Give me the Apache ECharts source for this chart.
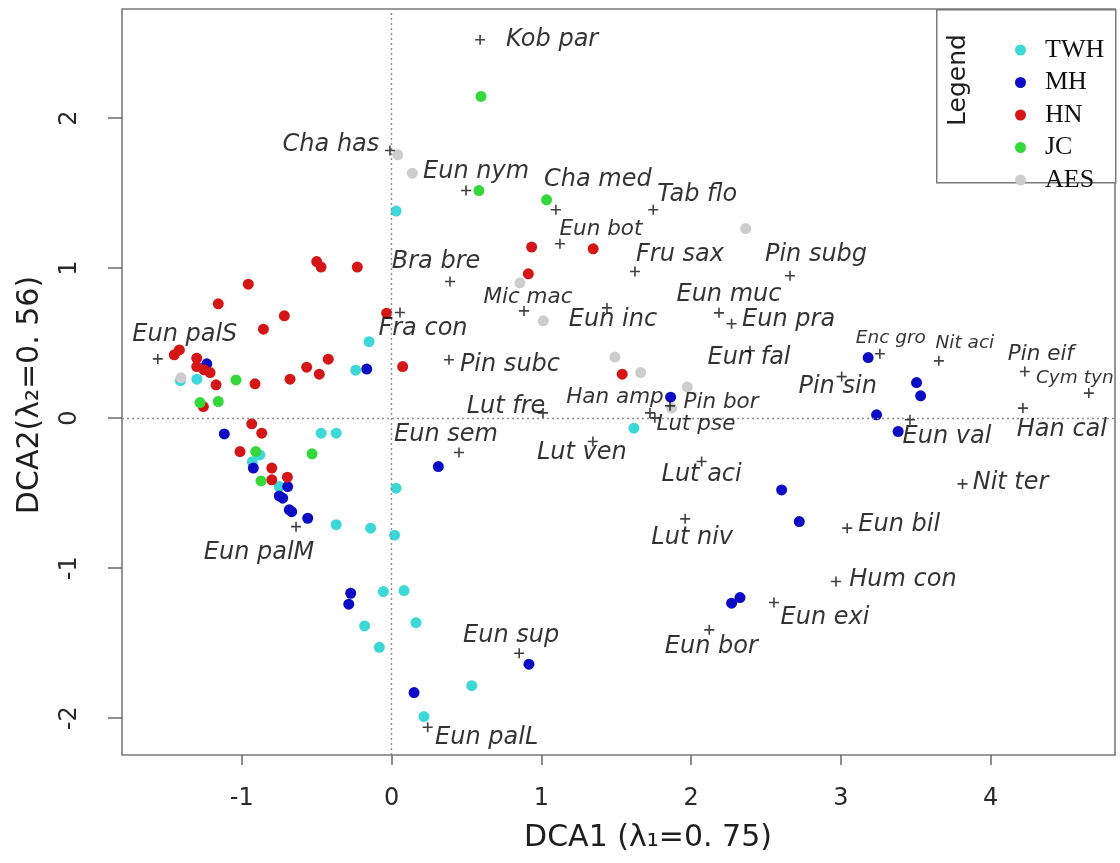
<!DOCTYPE html>
<html>
<head>
<meta charset="utf-8">
<script src="https://cdn.jsdelivr.net/npm/echarts@6/dist/echarts.min.js"></script>
<style>
  html, body { margin: 0; padding: 0; background: #ffffff; }
  #chart { width: 1120px; height: 863px; }
</style>
</head>
<body>
<div id="chart"></div>
<script>
// ---- DCA sample scores by group: [DCA1, DCA2] ----
const groupNames = ['TWH', 'MH', 'HN', 'JC', 'AES'];

const twhPoints = [
  [0.03, 1.38], [-0.15, 0.51], [-0.24, 0.32], [-1.41, 0.25], [-1.30, 0.26],
  [-0.47, -0.10], [-0.37, -0.10], [-0.88, -0.245], [-0.93, -0.29], [-0.75, -0.456],
  [0.03, -0.467], [-0.37, -0.71], [-0.14, -0.733], [0.02, -0.78], [-0.055, -1.156],
  [0.083, -1.149], [-0.18, -1.385], [0.163, -1.363], [-0.082, -1.527], [0.535, -1.783],
  [0.216, -1.989], [1.618, -0.067]
];

const mhPoints = [
  [-1.234, 0.362], [-0.166, 0.327], [-1.117, -0.105], [-0.923, -0.333], [-0.694, -0.456],
  [-0.75, -0.518], [-0.727, -0.533], [-0.683, -0.611], [-0.667, -0.623], [-0.56, -0.667],
  [0.312, -0.323], [-0.273, -1.167], [-0.286, -1.24], [0.15, -1.829], [0.917, -1.64],
  [2.27, -1.233], [2.326, -1.196], [1.863, 0.14], [3.182, 0.404], [3.505, 0.237],
  [3.532, 0.149], [3.238, 0.022], [3.382, -0.089], [2.604, -0.478], [2.722, -0.689]
];

const hnPoints = [
  [-0.5, 1.044], [-0.471, 1.007], [-0.229, 1.007], [-0.957, 0.893], [0.935, 1.14],
  [1.346, 1.129], [0.913, 0.962], [-1.157, 0.762], [-0.716, 0.682], [-0.856, 0.593],
  [-1.451, 0.422], [-1.417, 0.455], [-1.301, 0.40], [-1.301, 0.344], [-1.252, 0.322],
  [-1.212, 0.304], [-1.172, 0.222], [-0.912, 0.229], [-0.567, 0.34], [-0.678, 0.26],
  [-0.483, 0.293], [-0.423, 0.393], [-0.033, 0.70], [0.074, 0.344], [-1.257, 0.077],
  [-0.934, -0.038], [-0.867, -0.10], [-1.012, -0.223], [-0.80, -0.333], [-0.80, -0.411],
  [-0.696, -0.393], [1.54, 0.293]
];

const jcPoints = [
  [0.597, 2.144], [0.583, 1.517], [1.035, 1.455], [-1.039, 0.255], [-1.279, 0.104],
  [-1.157, 0.111], [-0.907, -0.223], [-0.531, -0.238], [-0.872, -0.418]
];

const aesPoints = [
  [0.041, 1.755], [0.138, 1.633], [2.364, 1.264], [0.857, 0.902], [1.013, 0.649],
  [1.491, 0.407], [1.663, 0.304], [1.974, 0.207], [1.87, 0.067], [-1.406, 0.269]
];

// ---- species scores ----
const speciesNames = [
  'Kob par', 'Cha has', 'Eun nym', 'Cha med', 'Tab flo', 'Eun bot', 'Fru sax', 'Bra bre',
  'Pin subg', 'Mic mac', 'Eun inc', 'Eun muc', 'Eun pra', 'Eun fal', 'Pin subc', 'Fra con',
  'Han amp', 'Pin bor', 'Lut pse', 'Lut fre', 'Eun sem', 'Lut ven', 'Lut aci', 'Lut niv',
  'Pin sin', 'Enc gro', 'Nit aci', 'Pin eif', 'Cym tyn', 'Han cal', 'Eun val', 'Nit ter',
  'Eun bil', 'Hum con', 'Eun exi', 'Eun bor', 'Eun sup', 'Eun palL', 'Eun palM', 'Eun palS'
];
const speciesX = [
  0.591, -0.011, 0.497, 1.097, 1.747, 1.124, 1.625, 0.39,
  2.66, 0.884, 1.438, 2.186, 2.27, 2.393, 0.383, 0.056,
  1.725, 1.859, 1.758, 1.011, 0.45, 1.344, 2.07, 1.96,
  3.005, 3.26, 3.654, 4.228, 4.655, 4.215, 3.461, 3.812,
  3.042, 2.967, 2.553, 2.121, 0.852, 0.241, -0.638, -1.561
];
const speciesY = [
  2.522, 1.784, 1.517, 1.389, 1.389, 1.162, 0.977, 0.911,
  0.949, 0.715, 0.735, 0.702, 0.629, 0.449, 0.389, 0.704,
  0.035, 0.082, 0.002, 0.035, -0.229, -0.156, -0.289, -0.671,
  0.277, 0.429, 0.382, 0.311, 0.167, 0.067, -0.011, -0.438,
  -0.733, -1.089, -1.229, -1.411, -1.567, -2.06, -0.723, 0.395
];

// ---- axes ----
const xTicks = [-1, 0, 1, 2, 3, 4];
const yTicks = [-2, -1, 0, 1, 2];
const xTitle = 'DCA1 (\u03bb\u2081=0. 75)';
const yTitle = 'DCA2(\u03bb\u2082=0. 56)';

// ---- label layout: offset of each species label centre from its marker (px), and size class ----
const labelLayout = {
  'Kob par': [72, 0], 'Cha has': [-59, -6], 'Eun nym': [10, -19], 'Cha med': [42, -30],
  'Tab flo': [44, -15], 'Eun bot': [41, -14, 'm'], 'Fru sax': [45, -17], 'Bra bre': [-14, -20],
  'Pin subg': [26, -21], 'Mic mac': [4, -13, 'm'], 'Eun inc': [6, 12], 'Eun muc': [10, -18],
  'Eun pra': [57, -4], 'Eun fal': [-1, 7], 'Pin subc': [61, 5], 'Fra con': [23, 16],
  'Han amp': [-35, -15, 'm'], 'Pin bor': [51, -3, 'm'], 'Lut pse': [41, 7, 'm'], 'Lut fre': [-37, -6],
  'Eun sem': [-13, -18], 'Lut ven': [-11, 11], 'Lut aci': [0, 13], 'Lut niv': [7, 19],
  'Pin sin': [-4, 10], 'Enc gro': [11, -16, 's'], 'Nit aci': [26, -18, 's'], 'Pin eif': [16, -17, 'm'],
  'Cym tyn': [-14, -15, 's'], 'Han cal': [39, 22], 'Eun val': [37, 17], 'Nit ter': [48, -1],
  'Eun bil': [52, -3], 'Hum con': [67, -2], 'Eun exi': [51, 15], 'Eun bor': [2, 17],
  'Eun sup': [-8, -18], 'Eun palL': [59, 11], 'Eun palM': [-37, 26], 'Eun palS': [27, -24]
};
const labelSizes = { l: 24, m: 21.5, s: 18.5 };

const groupColors = ['#3cd8d8', '#0c0cc4', '#d41616', '#34d83a', '#cdcdcd'];
const plusPath = 'path://M4.2,0h1.6v4.2h4.2v1.6h-4.2v4.2h-1.6v-4.2h-4.2v-1.6h4.2z';
const sansFont = 'DejaVu Sans';

const groupData = [twhPoints, mhPoints, hnPoints, jcPoints, aesPoints];

const sampleSeries = groupNames.map((name, i) => ({
  name: name,
  type: 'scatter',
  data: groupData[i],
  symbol: 'circle',
  symbolSize: 11,
  itemStyle: { color: groupColors[i], opacity: 1 },
  z: 3,
  silent: true
}));

const speciesData = speciesNames.map((n, i) => {
  const lay = labelLayout[n] || [0, -16];
  return {
    value: [speciesX[i], speciesY[i]],
    name: n,
    label: {
      offset: [lay[0], lay[1]],
      fontSize: labelSizes[lay[2] || 'l']
    }
  };
});

const option = {
  animation: false,
  backgroundColor: '#ffffff',
  grid: {
    left: 122, right: 5, top: 9, bottom: 108,
    show: true, borderColor: '#7a7a7a', borderWidth: 1.6, backgroundColor: 'transparent'
  },
  xAxis: {
    type: 'value', min: -1.8, max: 4.83,
    axisLine: { show: false, onZero: false },
    splitLine: { show: false },
    axisTick: {
      show: true, inside: false, length: 10, customValues: xTicks,
      lineStyle: { color: '#6a6a6a', width: 1.5 }
    },
    axisLabel: {
      customValues: xTicks, margin: 32, fontSize: 24, color: '#2a2a2a', fontFamily: sansFont
    }
  },
  yAxis: {
    type: 'value', min: -2.245, max: 2.727,
    axisLine: { show: false, onZero: false },
    splitLine: { show: false },
    axisTick: {
      show: true, inside: false, length: 14, customValues: yTicks,
      lineStyle: { color: '#6a6a6a', width: 1.5 }
    },
    axisLabel: {
      customValues: yTicks, rotate: 90, margin: 40, fontSize: 24, color: '#2a2a2a', fontFamily: sansFont
    }
  },
  legend: {
    data: groupNames,
    orient: 'vertical',
    left: 1010, top: 32,
    icon: 'circle',
    itemWidth: 11, itemHeight: 11,
    itemGap: 6.5,
    selectedMode: false,
    textStyle: {
      fontFamily: 'Liberation Serif', fontSize: 26, color: '#111',
      lineHeight: 22, padding: [0, 0, 0, 14]
    }
  },
  graphic: [
    {
      type: 'rect', left: 936, top: 9, z: 0,
      shape: { width: 179, height: 173 },
      style: { fill: '#ffffff', stroke: '#7a7a7a', lineWidth: 1.5 }
    },
    {
      type: 'text', x: 958, y: 80, rotation: Math.PI / 2, z: 1,
      style: {
        text: 'Legend', fontFamily: sansFont, fontSize: 25, fill: '#1e1e1e',
        align: 'center', verticalAlign: 'middle'
      }
    },
    {
      type: 'text', x: 648, y: 838, z: 1,
      style: {
        text: xTitle, fontFamily: sansFont, fontSize: 30, fill: '#1e1e1e',
        align: 'center', verticalAlign: 'middle'
      }
    },
    {
      type: 'text', x: 30, y: 395, rotation: Math.PI / 2, z: 1,
      style: {
        text: yTitle, fontFamily: sansFont, fontSize: 30, fill: '#1e1e1e',
        align: 'center', verticalAlign: 'middle'
      }
    }
  ],
  series: [
    {
      name: 'ref',
      type: 'line',
      data: [],
      z: 1,
      silent: true,
      markLine: {
        silent: true,
        symbol: ['none', 'none'],
        label: { show: false },
        lineStyle: { type: [2, 3], color: '#8c8c8c', width: 1.4 },
        data: [{ xAxis: 0 }, { yAxis: 0 }]
      }
    },
    ...sampleSeries,
    {
      name: 'species',
      type: 'scatter',
      data: speciesData,
      symbol: plusPath,
      symbolSize: 10,
      itemStyle: { color: '#111111' },
      z: 5,
      silent: true,
      label: {
        show: true,
        position: 'inside',
        formatter: '{b}',
        fontFamily: sansFont,
        fontStyle: 'italic',
        color: '#000000',
        textBorderWidth: 0,
        align: 'center',
        verticalAlign: 'middle'
      }
    }
  ]
};

const chart = echarts.init(document.getElementById('chart'), null, { renderer: 'canvas' });
chart.setOption(option);
</script>
</body>
</html>
